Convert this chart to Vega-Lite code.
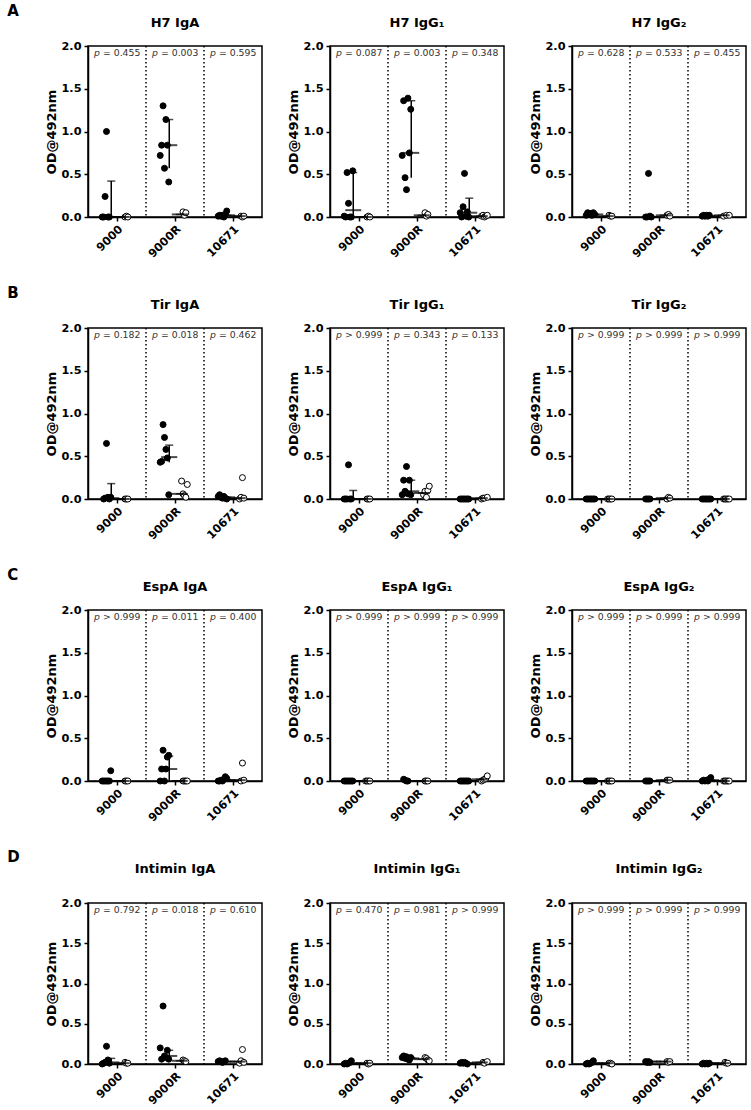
{
"$schema": "https://vega.github.io/schema/vega-lite/v6.json",
"background": "white",
"padding": {"left": 7, "top": 4, "right": 2, "bottom": 2},
"config": {
  "font": "DejaVu Sans",
  "view": {"stroke": "black", "strokeWidth": 1.5},
  "axis": {"grid": false, "domainColor": "black", "domainWidth": 1.5, "tickColor": "black", "tickWidth": 1.5, "tickSize": 4, "labelColor": "black", "labelFont": "DejaVu Sans", "labelFontWeight": "bold", "labelFontSize": 11.3, "titleColor": "black", "titleFont": "DejaVu Sans", "titleFontWeight": "bold", "titleFontSize": 13},
  "axisX": {"labelAngle": -45, "labelPadding": 2},
  "axisY": {"titlePadding": 2, "labelPadding": 3},
  "header": {"labelFontSize": 13, "labelFontWeight": "bold", "labelColor": "black", "labelFont": "DejaVu Sans", "labelPadding": 16},
  "title": {"fontSize": 15, "fontWeight": "bold", "anchor": "start", "color": "black", "font": "DejaVu Sans", "dx": -38, "offset": -2}
},
"datasets": {"d": [
{"k":"pt","row":"A","panel":"H7 IgA","group":"9000","sub":"i","rep":"i1","od":0},
{"k":"pt","row":"A","panel":"H7 IgA","group":"9000","sub":"i","rep":"i2","od":0},
{"k":"pt","row":"A","panel":"H7 IgA","group":"9000","sub":"i","rep":"i3","od":0.24},
{"k":"pt","row":"A","panel":"H7 IgA","group":"9000","sub":"i","rep":"i4","od":1.0},
{"k":"pt","row":"A","panel":"H7 IgA","group":"9000","sub":"i","rep":"i5","od":0},
{"k":"pt","row":"A","panel":"H7 IgA","group":"9000","sub":"i","rep":"i6","od":0},
{"k":"pt","row":"A","panel":"H7 IgA","group":"9000","sub":"c","rep":"c2","od":0},
{"k":"pt","row":"A","panel":"H7 IgA","group":"9000","sub":"c","rep":"c3","od":0.01},
{"k":"pt","row":"A","panel":"H7 IgA","group":"9000","sub":"c","rep":"c4","od":0},
{"k":"pt","row":"A","panel":"H7 IgA","group":"9000R","sub":"i","rep":"i1","od":0.72},
{"k":"pt","row":"A","panel":"H7 IgA","group":"9000R","sub":"i","rep":"i2","od":0.84},
{"k":"pt","row":"A","panel":"H7 IgA","group":"9000R","sub":"i","rep":"i3","od":1.3},
{"k":"pt","row":"A","panel":"H7 IgA","group":"9000R","sub":"i","rep":"i4","od":0.57},
{"k":"pt","row":"A","panel":"H7 IgA","group":"9000R","sub":"i","rep":"i5","od":1.14},
{"k":"pt","row":"A","panel":"H7 IgA","group":"9000R","sub":"i","rep":"i6","od":0.84},
{"k":"pt","row":"A","panel":"H7 IgA","group":"9000R","sub":"i","rep":"i7","od":0.41},
{"k":"pt","row":"A","panel":"H7 IgA","group":"9000R","sub":"c","rep":"c2","od":0.06},
{"k":"pt","row":"A","panel":"H7 IgA","group":"9000R","sub":"c","rep":"c3","od":0.02},
{"k":"pt","row":"A","panel":"H7 IgA","group":"9000R","sub":"c","rep":"c4","od":0.05},
{"k":"pt","row":"A","panel":"H7 IgA","group":"10671","sub":"i","rep":"i1","od":0.01},
{"k":"pt","row":"A","panel":"H7 IgA","group":"10671","sub":"i","rep":"i2","od":0.02},
{"k":"pt","row":"A","panel":"H7 IgA","group":"10671","sub":"i","rep":"i3","od":0.01},
{"k":"pt","row":"A","panel":"H7 IgA","group":"10671","sub":"i","rep":"i4","od":0.02},
{"k":"pt","row":"A","panel":"H7 IgA","group":"10671","sub":"i","rep":"i5","od":0},
{"k":"pt","row":"A","panel":"H7 IgA","group":"10671","sub":"i","rep":"i6","od":0.03},
{"k":"pt","row":"A","panel":"H7 IgA","group":"10671","sub":"i","rep":"i7","od":0.07},
{"k":"pt","row":"A","panel":"H7 IgA","group":"10671","sub":"c","rep":"c2","od":0.01},
{"k":"pt","row":"A","panel":"H7 IgA","group":"10671","sub":"c","rep":"c3","od":0},
{"k":"pt","row":"A","panel":"H7 IgA","group":"10671","sub":"c","rep":"c4","od":0.01},

{"k":"pt","row":"A","panel":"H7 IgG\u2081","group":"9000","sub":"i","rep":"i1","od":0.01},
{"k":"pt","row":"A","panel":"H7 IgG\u2081","group":"9000","sub":"i","rep":"i2","od":0},
{"k":"pt","row":"A","panel":"H7 IgG\u2081","group":"9000","sub":"i","rep":"i3","od":0.52},
{"k":"pt","row":"A","panel":"H7 IgG\u2081","group":"9000","sub":"i","rep":"i4","od":0.16},
{"k":"pt","row":"A","panel":"H7 IgG\u2081","group":"9000","sub":"i","rep":"i5","od":0},
{"k":"pt","row":"A","panel":"H7 IgG\u2081","group":"9000","sub":"i","rep":"i6","od":0},
{"k":"pt","row":"A","panel":"H7 IgG\u2081","group":"9000","sub":"i","rep":"i7","od":0.54},
{"k":"pt","row":"A","panel":"H7 IgG\u2081","group":"9000","sub":"c","rep":"c2","od":0},
{"k":"pt","row":"A","panel":"H7 IgG\u2081","group":"9000","sub":"c","rep":"c3","od":0.01},
{"k":"pt","row":"A","panel":"H7 IgG\u2081","group":"9000","sub":"c","rep":"c4","od":0},
{"k":"pt","row":"A","panel":"H7 IgG\u2081","group":"9000R","sub":"i","rep":"i1","od":0.72},
{"k":"pt","row":"A","panel":"H7 IgG\u2081","group":"9000R","sub":"i","rep":"i2","od":1.36},
{"k":"pt","row":"A","panel":"H7 IgG\u2081","group":"9000R","sub":"i","rep":"i3","od":0.46},
{"k":"pt","row":"A","panel":"H7 IgG\u2081","group":"9000R","sub":"i","rep":"i4","od":0.32},
{"k":"pt","row":"A","panel":"H7 IgG\u2081","group":"9000R","sub":"i","rep":"i5","od":1.39},
{"k":"pt","row":"A","panel":"H7 IgG\u2081","group":"9000R","sub":"i","rep":"i6","od":0.75},
{"k":"pt","row":"A","panel":"H7 IgG\u2081","group":"9000R","sub":"i","rep":"i7","od":1.26},
{"k":"pt","row":"A","panel":"H7 IgG\u2081","group":"9000R","sub":"c","rep":"c2","od":0.05},
{"k":"pt","row":"A","panel":"H7 IgG\u2081","group":"9000R","sub":"c","rep":"c3","od":0.01},
{"k":"pt","row":"A","panel":"H7 IgG\u2081","group":"9000R","sub":"c","rep":"c4","od":0.03},
{"k":"pt","row":"A","panel":"H7 IgG\u2081","group":"10671","sub":"i","rep":"i1","od":0.05},
{"k":"pt","row":"A","panel":"H7 IgG\u2081","group":"10671","sub":"i","rep":"i2","od":0},
{"k":"pt","row":"A","panel":"H7 IgG\u2081","group":"10671","sub":"i","rep":"i3","od":0.12},
{"k":"pt","row":"A","panel":"H7 IgG\u2081","group":"10671","sub":"i","rep":"i4","od":0.51},
{"k":"pt","row":"A","panel":"H7 IgG\u2081","group":"10671","sub":"i","rep":"i5","od":0.01},
{"k":"pt","row":"A","panel":"H7 IgG\u2081","group":"10671","sub":"i","rep":"i6","od":0.06},
{"k":"pt","row":"A","panel":"H7 IgG\u2081","group":"10671","sub":"i","rep":"i7","od":0},
{"k":"pt","row":"A","panel":"H7 IgG\u2081","group":"10671","sub":"c","rep":"c1","od":0.01},
{"k":"pt","row":"A","panel":"H7 IgG\u2081","group":"10671","sub":"c","rep":"c2","od":0.02},
{"k":"pt","row":"A","panel":"H7 IgG\u2081","group":"10671","sub":"c","rep":"c3","od":0},
{"k":"pt","row":"A","panel":"H7 IgG\u2081","group":"10671","sub":"c","rep":"c4","od":0.01},
{"k":"pt","row":"A","panel":"H7 IgG\u2081","group":"10671","sub":"c","rep":"c5","od":0.02},

{"k":"pt","row":"A","panel":"H7 IgG\u2082","group":"9000","sub":"i","rep":"i1","od":0.02},
{"k":"pt","row":"A","panel":"H7 IgG\u2082","group":"9000","sub":"i","rep":"i2","od":0.05},
{"k":"pt","row":"A","panel":"H7 IgG\u2082","group":"9000","sub":"i","rep":"i3","od":0.03},
{"k":"pt","row":"A","panel":"H7 IgG\u2082","group":"9000","sub":"i","rep":"i4","od":0.04},
{"k":"pt","row":"A","panel":"H7 IgG\u2082","group":"9000","sub":"i","rep":"i5","od":0.02},
{"k":"pt","row":"A","panel":"H7 IgG\u2082","group":"9000","sub":"i","rep":"i6","od":0.05},
{"k":"pt","row":"A","panel":"H7 IgG\u2082","group":"9000","sub":"i","rep":"i7","od":0.03},
{"k":"pt","row":"A","panel":"H7 IgG\u2082","group":"9000","sub":"c","rep":"c2","od":0.02},
{"k":"pt","row":"A","panel":"H7 IgG\u2082","group":"9000","sub":"c","rep":"c3","od":0.01},
{"k":"pt","row":"A","panel":"H7 IgG\u2082","group":"9000","sub":"c","rep":"c4","od":0.01},
{"k":"pt","row":"A","panel":"H7 IgG\u2082","group":"9000R","sub":"i","rep":"i2","od":0},
{"k":"pt","row":"A","panel":"H7 IgG\u2082","group":"9000R","sub":"i","rep":"i3","od":0},
{"k":"pt","row":"A","panel":"H7 IgG\u2082","group":"9000R","sub":"i","rep":"i4","od":0.51},
{"k":"pt","row":"A","panel":"H7 IgG\u2082","group":"9000R","sub":"i","rep":"i5","od":0.01},
{"k":"pt","row":"A","panel":"H7 IgG\u2082","group":"9000R","sub":"i","rep":"i6","od":0},
{"k":"pt","row":"A","panel":"H7 IgG\u2082","group":"9000R","sub":"c","rep":"c2","od":0.02},
{"k":"pt","row":"A","panel":"H7 IgG\u2082","group":"9000R","sub":"c","rep":"c3","od":0.03},
{"k":"pt","row":"A","panel":"H7 IgG\u2082","group":"9000R","sub":"c","rep":"c4","od":0.01},
{"k":"pt","row":"A","panel":"H7 IgG\u2082","group":"10671","sub":"i","rep":"i1","od":0.01},
{"k":"pt","row":"A","panel":"H7 IgG\u2082","group":"10671","sub":"i","rep":"i2","od":0.02},
{"k":"pt","row":"A","panel":"H7 IgG\u2082","group":"10671","sub":"i","rep":"i3","od":0.01},
{"k":"pt","row":"A","panel":"H7 IgG\u2082","group":"10671","sub":"i","rep":"i4","od":0.02},
{"k":"pt","row":"A","panel":"H7 IgG\u2082","group":"10671","sub":"i","rep":"i5","od":0.01},
{"k":"pt","row":"A","panel":"H7 IgG\u2082","group":"10671","sub":"i","rep":"i6","od":0.02},
{"k":"pt","row":"A","panel":"H7 IgG\u2082","group":"10671","sub":"c","rep":"c1","od":0.01},
{"k":"pt","row":"A","panel":"H7 IgG\u2082","group":"10671","sub":"c","rep":"c3","od":0.02},
{"k":"pt","row":"A","panel":"H7 IgG\u2082","group":"10671","sub":"c","rep":"c5","od":0.02},

{"k":"pt","row":"B","panel":"Tir IgA","group":"9000","sub":"i","rep":"i2","od":0},
{"k":"pt","row":"B","panel":"Tir IgA","group":"9000","sub":"i","rep":"i3","od":0.01},
{"k":"pt","row":"B","panel":"Tir IgA","group":"9000","sub":"i","rep":"i4","od":0.65},
{"k":"pt","row":"B","panel":"Tir IgA","group":"9000","sub":"i","rep":"i5","od":0.02},
{"k":"pt","row":"B","panel":"Tir IgA","group":"9000","sub":"i","rep":"i6","od":0},
{"k":"pt","row":"B","panel":"Tir IgA","group":"9000","sub":"i","rep":"i7","od":0.02},
{"k":"pt","row":"B","panel":"Tir IgA","group":"9000","sub":"c","rep":"c2","od":0},
{"k":"pt","row":"B","panel":"Tir IgA","group":"9000","sub":"c","rep":"c3","od":0},
{"k":"pt","row":"B","panel":"Tir IgA","group":"9000","sub":"c","rep":"c4","od":0},
{"k":"pt","row":"B","panel":"Tir IgA","group":"9000R","sub":"i","rep":"i1","od":0.43},
{"k":"pt","row":"B","panel":"Tir IgA","group":"9000R","sub":"i","rep":"i2","od":0.44},
{"k":"pt","row":"B","panel":"Tir IgA","group":"9000R","sub":"i","rep":"i3","od":0.87},
{"k":"pt","row":"B","panel":"Tir IgA","group":"9000R","sub":"i","rep":"i4","od":0.72},
{"k":"pt","row":"B","panel":"Tir IgA","group":"9000R","sub":"i","rep":"i5","od":0.58},
{"k":"pt","row":"B","panel":"Tir IgA","group":"9000R","sub":"i","rep":"i6","od":0.48},
{"k":"pt","row":"B","panel":"Tir IgA","group":"9000R","sub":"i","rep":"i7","od":0.05},
{"k":"pt","row":"B","panel":"Tir IgA","group":"9000R","sub":"c","rep":"c1","od":0.21},
{"k":"pt","row":"B","panel":"Tir IgA","group":"9000R","sub":"c","rep":"c2","od":0.06},
{"k":"pt","row":"B","panel":"Tir IgA","group":"9000R","sub":"c","rep":"c3","od":0.04},
{"k":"pt","row":"B","panel":"Tir IgA","group":"9000R","sub":"c","rep":"c4","od":0.02},
{"k":"pt","row":"B","panel":"Tir IgA","group":"9000R","sub":"c","rep":"c5","od":0.17},
{"k":"pt","row":"B","panel":"Tir IgA","group":"10671","sub":"i","rep":"i1","od":0.03},
{"k":"pt","row":"B","panel":"Tir IgA","group":"10671","sub":"i","rep":"i2","od":0.05},
{"k":"pt","row":"B","panel":"Tir IgA","group":"10671","sub":"i","rep":"i3","od":0.02},
{"k":"pt","row":"B","panel":"Tir IgA","group":"10671","sub":"i","rep":"i4","od":0.01},
{"k":"pt","row":"B","panel":"Tir IgA","group":"10671","sub":"i","rep":"i5","od":0.03},
{"k":"pt","row":"B","panel":"Tir IgA","group":"10671","sub":"i","rep":"i6","od":0.01},
{"k":"pt","row":"B","panel":"Tir IgA","group":"10671","sub":"i","rep":"i7","od":0},
{"k":"pt","row":"B","panel":"Tir IgA","group":"10671","sub":"c","rep":"c1","od":0},
{"k":"pt","row":"B","panel":"Tir IgA","group":"10671","sub":"c","rep":"c2","od":0.02},
{"k":"pt","row":"B","panel":"Tir IgA","group":"10671","sub":"c","rep":"c3","od":0.25},
{"k":"pt","row":"B","panel":"Tir IgA","group":"10671","sub":"c","rep":"c4","od":0.01},

{"k":"pt","row":"B","panel":"Tir IgG\u2081","group":"9000","sub":"i","rep":"i1","od":0},
{"k":"pt","row":"B","panel":"Tir IgG\u2081","group":"9000","sub":"i","rep":"i2","od":0},
{"k":"pt","row":"B","panel":"Tir IgG\u2081","group":"9000","sub":"i","rep":"i3","od":0},
{"k":"pt","row":"B","panel":"Tir IgG\u2081","group":"9000","sub":"i","rep":"i4","od":0.4},
{"k":"pt","row":"B","panel":"Tir IgG\u2081","group":"9000","sub":"i","rep":"i5","od":0},
{"k":"pt","row":"B","panel":"Tir IgG\u2081","group":"9000","sub":"i","rep":"i6","od":0},
{"k":"pt","row":"B","panel":"Tir IgG\u2081","group":"9000","sub":"c","rep":"c2","od":0},
{"k":"pt","row":"B","panel":"Tir IgG\u2081","group":"9000","sub":"c","rep":"c3","od":0},
{"k":"pt","row":"B","panel":"Tir IgG\u2081","group":"9000","sub":"c","rep":"c4","od":0},
{"k":"pt","row":"B","panel":"Tir IgG\u2081","group":"9000R","sub":"i","rep":"i1","od":0.05},
{"k":"pt","row":"B","panel":"Tir IgG\u2081","group":"9000R","sub":"i","rep":"i2","od":0.22},
{"k":"pt","row":"B","panel":"Tir IgG\u2081","group":"9000R","sub":"i","rep":"i3","od":0.09},
{"k":"pt","row":"B","panel":"Tir IgG\u2081","group":"9000R","sub":"i","rep":"i4","od":0.38},
{"k":"pt","row":"B","panel":"Tir IgG\u2081","group":"9000R","sub":"i","rep":"i5","od":0.06},
{"k":"pt","row":"B","panel":"Tir IgG\u2081","group":"9000R","sub":"i","rep":"i6","od":0.22},
{"k":"pt","row":"B","panel":"Tir IgG\u2081","group":"9000R","sub":"i","rep":"i7","od":0.05},
{"k":"pt","row":"B","panel":"Tir IgG\u2081","group":"9000R","sub":"c","rep":"c1","od":0.05},
{"k":"pt","row":"B","panel":"Tir IgG\u2081","group":"9000R","sub":"c","rep":"c2","od":0.09},
{"k":"pt","row":"B","panel":"Tir IgG\u2081","group":"9000R","sub":"c","rep":"c3","od":0.02},
{"k":"pt","row":"B","panel":"Tir IgG\u2081","group":"9000R","sub":"c","rep":"c4","od":0.1},
{"k":"pt","row":"B","panel":"Tir IgG\u2081","group":"9000R","sub":"c","rep":"c5","od":0.15},
{"k":"pt","row":"B","panel":"Tir IgG\u2081","group":"10671","sub":"i","rep":"i1","od":0},
{"k":"pt","row":"B","panel":"Tir IgG\u2081","group":"10671","sub":"i","rep":"i2","od":0},
{"k":"pt","row":"B","panel":"Tir IgG\u2081","group":"10671","sub":"i","rep":"i3","od":0},
{"k":"pt","row":"B","panel":"Tir IgG\u2081","group":"10671","sub":"i","rep":"i4","od":0},
{"k":"pt","row":"B","panel":"Tir IgG\u2081","group":"10671","sub":"i","rep":"i5","od":0},
{"k":"pt","row":"B","panel":"Tir IgG\u2081","group":"10671","sub":"i","rep":"i6","od":0},
{"k":"pt","row":"B","panel":"Tir IgG\u2081","group":"10671","sub":"i","rep":"i7","od":0},
{"k":"pt","row":"B","panel":"Tir IgG\u2081","group":"10671","sub":"c","rep":"c1","od":0},
{"k":"pt","row":"B","panel":"Tir IgG\u2081","group":"10671","sub":"c","rep":"c2","od":0.01},
{"k":"pt","row":"B","panel":"Tir IgG\u2081","group":"10671","sub":"c","rep":"c3","od":0.01},
{"k":"pt","row":"B","panel":"Tir IgG\u2081","group":"10671","sub":"c","rep":"c5","od":0.02},

{"k":"pt","row":"B","panel":"Tir IgG\u2082","group":"9000","sub":"i","rep":"i1","od":0},
{"k":"pt","row":"B","panel":"Tir IgG\u2082","group":"9000","sub":"i","rep":"i2","od":0},
{"k":"pt","row":"B","panel":"Tir IgG\u2082","group":"9000","sub":"i","rep":"i3","od":0},
{"k":"pt","row":"B","panel":"Tir IgG\u2082","group":"9000","sub":"i","rep":"i4","od":0},
{"k":"pt","row":"B","panel":"Tir IgG\u2082","group":"9000","sub":"i","rep":"i5","od":0},
{"k":"pt","row":"B","panel":"Tir IgG\u2082","group":"9000","sub":"i","rep":"i6","od":0},
{"k":"pt","row":"B","panel":"Tir IgG\u2082","group":"9000","sub":"i","rep":"i7","od":0},
{"k":"pt","row":"B","panel":"Tir IgG\u2082","group":"9000","sub":"c","rep":"c1","od":0},
{"k":"pt","row":"B","panel":"Tir IgG\u2082","group":"9000","sub":"c","rep":"c2","od":0},
{"k":"pt","row":"B","panel":"Tir IgG\u2082","group":"9000","sub":"c","rep":"c3","od":0},
{"k":"pt","row":"B","panel":"Tir IgG\u2082","group":"9000","sub":"c","rep":"c4","od":0},
{"k":"pt","row":"B","panel":"Tir IgG\u2082","group":"9000R","sub":"i","rep":"i2","od":0},
{"k":"pt","row":"B","panel":"Tir IgG\u2082","group":"9000R","sub":"i","rep":"i3","od":0},
{"k":"pt","row":"B","panel":"Tir IgG\u2082","group":"9000R","sub":"i","rep":"i4","od":0},
{"k":"pt","row":"B","panel":"Tir IgG\u2082","group":"9000R","sub":"i","rep":"i5","od":0},
{"k":"pt","row":"B","panel":"Tir IgG\u2082","group":"9000R","sub":"c","rep":"c2","od":0},
{"k":"pt","row":"B","panel":"Tir IgG\u2082","group":"9000R","sub":"c","rep":"c3","od":0.02},
{"k":"pt","row":"B","panel":"Tir IgG\u2082","group":"9000R","sub":"c","rep":"c4","od":0.01},
{"k":"pt","row":"B","panel":"Tir IgG\u2082","group":"10671","sub":"i","rep":"i1","od":0},
{"k":"pt","row":"B","panel":"Tir IgG\u2082","group":"10671","sub":"i","rep":"i2","od":0},
{"k":"pt","row":"B","panel":"Tir IgG\u2082","group":"10671","sub":"i","rep":"i3","od":0},
{"k":"pt","row":"B","panel":"Tir IgG\u2082","group":"10671","sub":"i","rep":"i4","od":0},
{"k":"pt","row":"B","panel":"Tir IgG\u2082","group":"10671","sub":"i","rep":"i5","od":0},
{"k":"pt","row":"B","panel":"Tir IgG\u2082","group":"10671","sub":"i","rep":"i6","od":0},
{"k":"pt","row":"B","panel":"Tir IgG\u2082","group":"10671","sub":"i","rep":"i7","od":0},
{"k":"pt","row":"B","panel":"Tir IgG\u2082","group":"10671","sub":"c","rep":"c1","od":0},
{"k":"pt","row":"B","panel":"Tir IgG\u2082","group":"10671","sub":"c","rep":"c2","od":0},
{"k":"pt","row":"B","panel":"Tir IgG\u2082","group":"10671","sub":"c","rep":"c3","od":0},
{"k":"pt","row":"B","panel":"Tir IgG\u2082","group":"10671","sub":"c","rep":"c4","od":0},
{"k":"pt","row":"B","panel":"Tir IgG\u2082","group":"10671","sub":"c","rep":"c5","od":0},

{"k":"pt","row":"C","panel":"EspA IgA","group":"9000","sub":"i","rep":"i1","od":0},
{"k":"pt","row":"C","panel":"EspA IgA","group":"9000","sub":"i","rep":"i2","od":0},
{"k":"pt","row":"C","panel":"EspA IgA","group":"9000","sub":"i","rep":"i3","od":0},
{"k":"pt","row":"C","panel":"EspA IgA","group":"9000","sub":"i","rep":"i4","od":0},
{"k":"pt","row":"C","panel":"EspA IgA","group":"9000","sub":"i","rep":"i5","od":0},
{"k":"pt","row":"C","panel":"EspA IgA","group":"9000","sub":"i","rep":"i6","od":0},
{"k":"pt","row":"C","panel":"EspA IgA","group":"9000","sub":"i","rep":"i7","od":0.12},
{"k":"pt","row":"C","panel":"EspA IgA","group":"9000","sub":"c","rep":"c2","od":0},
{"k":"pt","row":"C","panel":"EspA IgA","group":"9000","sub":"c","rep":"c3","od":0},
{"k":"pt","row":"C","panel":"EspA IgA","group":"9000","sub":"c","rep":"c4","od":0},
{"k":"pt","row":"C","panel":"EspA IgA","group":"9000R","sub":"i","rep":"i1","od":0},
{"k":"pt","row":"C","panel":"EspA IgA","group":"9000R","sub":"i","rep":"i2","od":0.14},
{"k":"pt","row":"C","panel":"EspA IgA","group":"9000R","sub":"i","rep":"i3","od":0.36},
{"k":"pt","row":"C","panel":"EspA IgA","group":"9000R","sub":"i","rep":"i4","od":0},
{"k":"pt","row":"C","panel":"EspA IgA","group":"9000R","sub":"i","rep":"i5","od":0.14},
{"k":"pt","row":"C","panel":"EspA IgA","group":"9000R","sub":"i","rep":"i6","od":0.28},
{"k":"pt","row":"C","panel":"EspA IgA","group":"9000R","sub":"i","rep":"i7","od":0.3},
{"k":"pt","row":"C","panel":"EspA IgA","group":"9000R","sub":"c","rep":"c2","od":0},
{"k":"pt","row":"C","panel":"EspA IgA","group":"9000R","sub":"c","rep":"c3","od":0},
{"k":"pt","row":"C","panel":"EspA IgA","group":"9000R","sub":"c","rep":"c4","od":0},
{"k":"pt","row":"C","panel":"EspA IgA","group":"9000R","sub":"c","rep":"c5","od":0},
{"k":"pt","row":"C","panel":"EspA IgA","group":"10671","sub":"i","rep":"i1","od":0},
{"k":"pt","row":"C","panel":"EspA IgA","group":"10671","sub":"i","rep":"i2","od":0},
{"k":"pt","row":"C","panel":"EspA IgA","group":"10671","sub":"i","rep":"i3","od":0.01},
{"k":"pt","row":"C","panel":"EspA IgA","group":"10671","sub":"i","rep":"i4","od":0},
{"k":"pt","row":"C","panel":"EspA IgA","group":"10671","sub":"i","rep":"i5","od":0.02},
{"k":"pt","row":"C","panel":"EspA IgA","group":"10671","sub":"i","rep":"i6","od":0.05},
{"k":"pt","row":"C","panel":"EspA IgA","group":"10671","sub":"i","rep":"i7","od":0.03},
{"k":"pt","row":"C","panel":"EspA IgA","group":"10671","sub":"c","rep":"c2","od":0},
{"k":"pt","row":"C","panel":"EspA IgA","group":"10671","sub":"c","rep":"c3","od":0.21},
{"k":"pt","row":"C","panel":"EspA IgA","group":"10671","sub":"c","rep":"c4","od":0.01},

{"k":"pt","row":"C","panel":"EspA IgG\u2081","group":"9000","sub":"i","rep":"i1","od":0},
{"k":"pt","row":"C","panel":"EspA IgG\u2081","group":"9000","sub":"i","rep":"i2","od":0},
{"k":"pt","row":"C","panel":"EspA IgG\u2081","group":"9000","sub":"i","rep":"i3","od":0},
{"k":"pt","row":"C","panel":"EspA IgG\u2081","group":"9000","sub":"i","rep":"i4","od":0},
{"k":"pt","row":"C","panel":"EspA IgG\u2081","group":"9000","sub":"i","rep":"i5","od":0},
{"k":"pt","row":"C","panel":"EspA IgG\u2081","group":"9000","sub":"i","rep":"i6","od":0},
{"k":"pt","row":"C","panel":"EspA IgG\u2081","group":"9000","sub":"i","rep":"i7","od":0},
{"k":"pt","row":"C","panel":"EspA IgG\u2081","group":"9000","sub":"c","rep":"c1","od":0},
{"k":"pt","row":"C","panel":"EspA IgG\u2081","group":"9000","sub":"c","rep":"c2","od":0},
{"k":"pt","row":"C","panel":"EspA IgG\u2081","group":"9000","sub":"c","rep":"c3","od":0},
{"k":"pt","row":"C","panel":"EspA IgG\u2081","group":"9000","sub":"c","rep":"c4","od":0},
{"k":"pt","row":"C","panel":"EspA IgG\u2081","group":"9000R","sub":"i","rep":"i2","od":0.02},
{"k":"pt","row":"C","panel":"EspA IgG\u2081","group":"9000R","sub":"i","rep":"i3","od":0.01},
{"k":"pt","row":"C","panel":"EspA IgG\u2081","group":"9000R","sub":"i","rep":"i4","od":0},
{"k":"pt","row":"C","panel":"EspA IgG\u2081","group":"9000R","sub":"i","rep":"i5","od":0},
{"k":"pt","row":"C","panel":"EspA IgG\u2081","group":"9000R","sub":"c","rep":"c2","od":0},
{"k":"pt","row":"C","panel":"EspA IgG\u2081","group":"9000R","sub":"c","rep":"c3","od":0},
{"k":"pt","row":"C","panel":"EspA IgG\u2081","group":"9000R","sub":"c","rep":"c4","od":0},
{"k":"pt","row":"C","panel":"EspA IgG\u2081","group":"10671","sub":"i","rep":"i1","od":0},
{"k":"pt","row":"C","panel":"EspA IgG\u2081","group":"10671","sub":"i","rep":"i2","od":0},
{"k":"pt","row":"C","panel":"EspA IgG\u2081","group":"10671","sub":"i","rep":"i3","od":0},
{"k":"pt","row":"C","panel":"EspA IgG\u2081","group":"10671","sub":"i","rep":"i4","od":0},
{"k":"pt","row":"C","panel":"EspA IgG\u2081","group":"10671","sub":"i","rep":"i5","od":0},
{"k":"pt","row":"C","panel":"EspA IgG\u2081","group":"10671","sub":"i","rep":"i6","od":0},
{"k":"pt","row":"C","panel":"EspA IgG\u2081","group":"10671","sub":"i","rep":"i7","od":0},
{"k":"pt","row":"C","panel":"EspA IgG\u2081","group":"10671","sub":"c","rep":"c1","od":0},
{"k":"pt","row":"C","panel":"EspA IgG\u2081","group":"10671","sub":"c","rep":"c2","od":0.01},
{"k":"pt","row":"C","panel":"EspA IgG\u2081","group":"10671","sub":"c","rep":"c3","od":0.02},
{"k":"pt","row":"C","panel":"EspA IgG\u2081","group":"10671","sub":"c","rep":"c4","od":0.03},
{"k":"pt","row":"C","panel":"EspA IgG\u2081","group":"10671","sub":"c","rep":"c5","od":0.06},

{"k":"pt","row":"C","panel":"EspA IgG\u2082","group":"9000","sub":"i","rep":"i1","od":0},
{"k":"pt","row":"C","panel":"EspA IgG\u2082","group":"9000","sub":"i","rep":"i2","od":0},
{"k":"pt","row":"C","panel":"EspA IgG\u2082","group":"9000","sub":"i","rep":"i3","od":0},
{"k":"pt","row":"C","panel":"EspA IgG\u2082","group":"9000","sub":"i","rep":"i4","od":0},
{"k":"pt","row":"C","panel":"EspA IgG\u2082","group":"9000","sub":"i","rep":"i5","od":0},
{"k":"pt","row":"C","panel":"EspA IgG\u2082","group":"9000","sub":"i","rep":"i6","od":0},
{"k":"pt","row":"C","panel":"EspA IgG\u2082","group":"9000","sub":"i","rep":"i7","od":0},
{"k":"pt","row":"C","panel":"EspA IgG\u2082","group":"9000","sub":"c","rep":"c1","od":0},
{"k":"pt","row":"C","panel":"EspA IgG\u2082","group":"9000","sub":"c","rep":"c2","od":0},
{"k":"pt","row":"C","panel":"EspA IgG\u2082","group":"9000","sub":"c","rep":"c3","od":0},
{"k":"pt","row":"C","panel":"EspA IgG\u2082","group":"9000","sub":"c","rep":"c4","od":0},
{"k":"pt","row":"C","panel":"EspA IgG\u2082","group":"9000R","sub":"i","rep":"i2","od":0},
{"k":"pt","row":"C","panel":"EspA IgG\u2082","group":"9000R","sub":"i","rep":"i3","od":0},
{"k":"pt","row":"C","panel":"EspA IgG\u2082","group":"9000R","sub":"i","rep":"i4","od":0},
{"k":"pt","row":"C","panel":"EspA IgG\u2082","group":"9000R","sub":"i","rep":"i5","od":0},
{"k":"pt","row":"C","panel":"EspA IgG\u2082","group":"9000R","sub":"c","rep":"c2","od":0.01},
{"k":"pt","row":"C","panel":"EspA IgG\u2082","group":"9000R","sub":"c","rep":"c3","od":0.01},
{"k":"pt","row":"C","panel":"EspA IgG\u2082","group":"9000R","sub":"c","rep":"c4","od":0.01},
{"k":"pt","row":"C","panel":"EspA IgG\u2082","group":"10671","sub":"i","rep":"i1","od":0},
{"k":"pt","row":"C","panel":"EspA IgG\u2082","group":"10671","sub":"i","rep":"i2","od":0.01},
{"k":"pt","row":"C","panel":"EspA IgG\u2082","group":"10671","sub":"i","rep":"i3","od":0},
{"k":"pt","row":"C","panel":"EspA IgG\u2082","group":"10671","sub":"i","rep":"i4","od":0.01},
{"k":"pt","row":"C","panel":"EspA IgG\u2082","group":"10671","sub":"i","rep":"i5","od":0},
{"k":"pt","row":"C","panel":"EspA IgG\u2082","group":"10671","sub":"i","rep":"i6","od":0.02},
{"k":"pt","row":"C","panel":"EspA IgG\u2082","group":"10671","sub":"i","rep":"i7","od":0.04},
{"k":"pt","row":"C","panel":"EspA IgG\u2082","group":"10671","sub":"c","rep":"c1","od":0},
{"k":"pt","row":"C","panel":"EspA IgG\u2082","group":"10671","sub":"c","rep":"c2","od":0},
{"k":"pt","row":"C","panel":"EspA IgG\u2082","group":"10671","sub":"c","rep":"c3","od":0},
{"k":"pt","row":"C","panel":"EspA IgG\u2082","group":"10671","sub":"c","rep":"c4","od":0},
{"k":"pt","row":"C","panel":"EspA IgG\u2082","group":"10671","sub":"c","rep":"c5","od":0},

{"k":"pt","row":"D","panel":"Intimin IgA","group":"9000","sub":"i","rep":"i1","od":0},
{"k":"pt","row":"D","panel":"Intimin IgA","group":"9000","sub":"i","rep":"i2","od":0.01},
{"k":"pt","row":"D","panel":"Intimin IgA","group":"9000","sub":"i","rep":"i3","od":0.02},
{"k":"pt","row":"D","panel":"Intimin IgA","group":"9000","sub":"i","rep":"i4","od":0.22},
{"k":"pt","row":"D","panel":"Intimin IgA","group":"9000","sub":"i","rep":"i5","od":0.05},
{"k":"pt","row":"D","panel":"Intimin IgA","group":"9000","sub":"i","rep":"i6","od":0.01},
{"k":"pt","row":"D","panel":"Intimin IgA","group":"9000","sub":"c","rep":"c2","od":0.02},
{"k":"pt","row":"D","panel":"Intimin IgA","group":"9000","sub":"c","rep":"c3","od":0.01},
{"k":"pt","row":"D","panel":"Intimin IgA","group":"9000","sub":"c","rep":"c4","od":0.01},
{"k":"pt","row":"D","panel":"Intimin IgA","group":"9000R","sub":"i","rep":"i1","od":0.2},
{"k":"pt","row":"D","panel":"Intimin IgA","group":"9000R","sub":"i","rep":"i2","od":0.06},
{"k":"pt","row":"D","panel":"Intimin IgA","group":"9000R","sub":"i","rep":"i3","od":0.72},
{"k":"pt","row":"D","panel":"Intimin IgA","group":"9000R","sub":"i","rep":"i4","od":0.1},
{"k":"pt","row":"D","panel":"Intimin IgA","group":"9000R","sub":"i","rep":"i5","od":0.08},
{"k":"pt","row":"D","panel":"Intimin IgA","group":"9000R","sub":"i","rep":"i6","od":0.17},
{"k":"pt","row":"D","panel":"Intimin IgA","group":"9000R","sub":"i","rep":"i7","od":0.06},
{"k":"pt","row":"D","panel":"Intimin IgA","group":"9000R","sub":"c","rep":"c2","od":0.05},
{"k":"pt","row":"D","panel":"Intimin IgA","group":"9000R","sub":"c","rep":"c3","od":0.04},
{"k":"pt","row":"D","panel":"Intimin IgA","group":"9000R","sub":"c","rep":"c4","od":0.03},
{"k":"pt","row":"D","panel":"Intimin IgA","group":"10671","sub":"i","rep":"i1","od":0.03},
{"k":"pt","row":"D","panel":"Intimin IgA","group":"10671","sub":"i","rep":"i2","od":0.04},
{"k":"pt","row":"D","panel":"Intimin IgA","group":"10671","sub":"i","rep":"i3","od":0.03},
{"k":"pt","row":"D","panel":"Intimin IgA","group":"10671","sub":"i","rep":"i4","od":0.02},
{"k":"pt","row":"D","panel":"Intimin IgA","group":"10671","sub":"i","rep":"i5","od":0.03},
{"k":"pt","row":"D","panel":"Intimin IgA","group":"10671","sub":"i","rep":"i6","od":0.04},
{"k":"pt","row":"D","panel":"Intimin IgA","group":"10671","sub":"c","rep":"c1","od":0.01},
{"k":"pt","row":"D","panel":"Intimin IgA","group":"10671","sub":"c","rep":"c2","od":0.04},
{"k":"pt","row":"D","panel":"Intimin IgA","group":"10671","sub":"c","rep":"c3","od":0.18},
{"k":"pt","row":"D","panel":"Intimin IgA","group":"10671","sub":"c","rep":"c4","od":0.02},

{"k":"pt","row":"D","panel":"Intimin IgG\u2081","group":"9000","sub":"i","rep":"i1","od":0},
{"k":"pt","row":"D","panel":"Intimin IgG\u2081","group":"9000","sub":"i","rep":"i2","od":0.01},
{"k":"pt","row":"D","panel":"Intimin IgG\u2081","group":"9000","sub":"i","rep":"i3","od":0},
{"k":"pt","row":"D","panel":"Intimin IgG\u2081","group":"9000","sub":"i","rep":"i4","od":0.01},
{"k":"pt","row":"D","panel":"Intimin IgG\u2081","group":"9000","sub":"i","rep":"i5","od":0.02},
{"k":"pt","row":"D","panel":"Intimin IgG\u2081","group":"9000","sub":"i","rep":"i6","od":0.04},
{"k":"pt","row":"D","panel":"Intimin IgG\u2081","group":"9000","sub":"c","rep":"c2","od":0.01},
{"k":"pt","row":"D","panel":"Intimin IgG\u2081","group":"9000","sub":"c","rep":"c3","od":0},
{"k":"pt","row":"D","panel":"Intimin IgG\u2081","group":"9000","sub":"c","rep":"c4","od":0.01},
{"k":"pt","row":"D","panel":"Intimin IgG\u2081","group":"9000R","sub":"i","rep":"i1","od":0.08},
{"k":"pt","row":"D","panel":"Intimin IgG\u2081","group":"9000R","sub":"i","rep":"i2","od":0.1},
{"k":"pt","row":"D","panel":"Intimin IgG\u2081","group":"9000R","sub":"i","rep":"i3","od":0.07},
{"k":"pt","row":"D","panel":"Intimin IgG\u2081","group":"9000R","sub":"i","rep":"i4","od":0.09},
{"k":"pt","row":"D","panel":"Intimin IgG\u2081","group":"9000R","sub":"i","rep":"i5","od":0.06},
{"k":"pt","row":"D","panel":"Intimin IgG\u2081","group":"9000R","sub":"i","rep":"i6","od":0.05},
{"k":"pt","row":"D","panel":"Intimin IgG\u2081","group":"9000R","sub":"i","rep":"i7","od":0.08},
{"k":"pt","row":"D","panel":"Intimin IgG\u2081","group":"9000R","sub":"c","rep":"c2","od":0.08},
{"k":"pt","row":"D","panel":"Intimin IgG\u2081","group":"9000R","sub":"c","rep":"c3","od":0.07},
{"k":"pt","row":"D","panel":"Intimin IgG\u2081","group":"9000R","sub":"c","rep":"c4","od":0.05},
{"k":"pt","row":"D","panel":"Intimin IgG\u2081","group":"9000R","sub":"c","rep":"c5","od":0.04},
{"k":"pt","row":"D","panel":"Intimin IgG\u2081","group":"10671","sub":"i","rep":"i1","od":0.01},
{"k":"pt","row":"D","panel":"Intimin IgG\u2081","group":"10671","sub":"i","rep":"i2","od":0.02},
{"k":"pt","row":"D","panel":"Intimin IgG\u2081","group":"10671","sub":"i","rep":"i3","od":0.01},
{"k":"pt","row":"D","panel":"Intimin IgG\u2081","group":"10671","sub":"i","rep":"i4","od":0.02},
{"k":"pt","row":"D","panel":"Intimin IgG\u2081","group":"10671","sub":"i","rep":"i5","od":0.01},
{"k":"pt","row":"D","panel":"Intimin IgG\u2081","group":"10671","sub":"i","rep":"i6","od":0},
{"k":"pt","row":"D","panel":"Intimin IgG\u2081","group":"10671","sub":"c","rep":"c2","od":0.02},
{"k":"pt","row":"D","panel":"Intimin IgG\u2081","group":"10671","sub":"c","rep":"c3","od":0.01},
{"k":"pt","row":"D","panel":"Intimin IgG\u2081","group":"10671","sub":"c","rep":"c5","od":0.03},

{"k":"pt","row":"D","panel":"Intimin IgG\u2082","group":"9000","sub":"i","rep":"i1","od":0},
{"k":"pt","row":"D","panel":"Intimin IgG\u2082","group":"9000","sub":"i","rep":"i2","od":0.01},
{"k":"pt","row":"D","panel":"Intimin IgG\u2082","group":"9000","sub":"i","rep":"i3","od":0},
{"k":"pt","row":"D","panel":"Intimin IgG\u2082","group":"9000","sub":"i","rep":"i4","od":0.01},
{"k":"pt","row":"D","panel":"Intimin IgG\u2082","group":"9000","sub":"i","rep":"i5","od":0.02},
{"k":"pt","row":"D","panel":"Intimin IgG\u2082","group":"9000","sub":"i","rep":"i6","od":0.04},
{"k":"pt","row":"D","panel":"Intimin IgG\u2082","group":"9000","sub":"c","rep":"c2","od":0.01},
{"k":"pt","row":"D","panel":"Intimin IgG\u2082","group":"9000","sub":"c","rep":"c3","od":0.01},
{"k":"pt","row":"D","panel":"Intimin IgG\u2082","group":"9000","sub":"c","rep":"c4","od":0},
{"k":"pt","row":"D","panel":"Intimin IgG\u2082","group":"9000R","sub":"i","rep":"i2","od":0.03},
{"k":"pt","row":"D","panel":"Intimin IgG\u2082","group":"9000R","sub":"i","rep":"i3","od":0.02},
{"k":"pt","row":"D","panel":"Intimin IgG\u2082","group":"9000R","sub":"i","rep":"i4","od":0.03},
{"k":"pt","row":"D","panel":"Intimin IgG\u2082","group":"9000R","sub":"i","rep":"i5","od":0.02},
{"k":"pt","row":"D","panel":"Intimin IgG\u2082","group":"9000R","sub":"c","rep":"c2","od":0.03},
{"k":"pt","row":"D","panel":"Intimin IgG\u2082","group":"9000R","sub":"c","rep":"c3","od":0.02},
{"k":"pt","row":"D","panel":"Intimin IgG\u2082","group":"9000R","sub":"c","rep":"c4","od":0.03},
{"k":"pt","row":"D","panel":"Intimin IgG\u2082","group":"10671","sub":"i","rep":"i1","od":0},
{"k":"pt","row":"D","panel":"Intimin IgG\u2082","group":"10671","sub":"i","rep":"i2","od":0.01},
{"k":"pt","row":"D","panel":"Intimin IgG\u2082","group":"10671","sub":"i","rep":"i3","od":0},
{"k":"pt","row":"D","panel":"Intimin IgG\u2082","group":"10671","sub":"i","rep":"i4","od":0.01},
{"k":"pt","row":"D","panel":"Intimin IgG\u2082","group":"10671","sub":"i","rep":"i5","od":0},
{"k":"pt","row":"D","panel":"Intimin IgG\u2082","group":"10671","sub":"i","rep":"i6","od":0.01},
{"k":"pt","row":"D","panel":"Intimin IgG\u2082","group":"10671","sub":"c","rep":"c2","od":0.02},
{"k":"pt","row":"D","panel":"Intimin IgG\u2082","group":"10671","sub":"c","rep":"c3","od":0.01},
{"k":"pt","row":"D","panel":"Intimin IgG\u2082","group":"10671","sub":"c","rep":"c4","od":0.01},

{"k":"st","row":"A","panel":"H7 IgA","group":"9000","sub":"i","med":0,"q1":0,"q3":0.42},
{"k":"st","row":"A","panel":"H7 IgA","group":"9000","sub":"c","med":0,"q1":0,"q3":0},
{"k":"st","row":"A","panel":"H7 IgA","group":"9000R","sub":"i","med":0.84,"q1":0.57,"q3":1.14},
{"k":"st","row":"A","panel":"H7 IgA","group":"9000R","sub":"c","med":0.03,"q1":0.03,"q3":0.03},
{"k":"st","row":"A","panel":"H7 IgA","group":"10671","sub":"i","med":0.02,"q1":0.02,"q3":0.02},
{"k":"st","row":"A","panel":"H7 IgA","group":"10671","sub":"c","med":0.01,"q1":0.01,"q3":0.01},
{"k":"st","row":"A","panel":"H7 IgG\u2081","group":"9000","sub":"i","med":0.08,"q1":0,"q3":0.52},
{"k":"st","row":"A","panel":"H7 IgG\u2081","group":"9000","sub":"c","med":0,"q1":0,"q3":0},
{"k":"st","row":"A","panel":"H7 IgG\u2081","group":"9000R","sub":"i","med":0.75,"q1":0.46,"q3":1.36},
{"k":"st","row":"A","panel":"H7 IgG\u2081","group":"9000R","sub":"c","med":0.02,"q1":0.02,"q3":0.02},
{"k":"st","row":"A","panel":"H7 IgG\u2081","group":"10671","sub":"i","med":0.05,"q1":0.01,"q3":0.22},
{"k":"st","row":"A","panel":"H7 IgG\u2081","group":"10671","sub":"c","med":0.01,"q1":0.01,"q3":0.01},
{"k":"st","row":"A","panel":"H7 IgG\u2082","group":"9000","sub":"i","med":0.03,"q1":0.03,"q3":0.03},
{"k":"st","row":"A","panel":"H7 IgG\u2082","group":"9000","sub":"c","med":0.01,"q1":0.01,"q3":0.01},
{"k":"st","row":"A","panel":"H7 IgG\u2082","group":"9000R","sub":"i","med":0,"q1":0,"q3":0},
{"k":"st","row":"A","panel":"H7 IgG\u2082","group":"9000R","sub":"c","med":0.02,"q1":0.02,"q3":0.02},
{"k":"st","row":"A","panel":"H7 IgG\u2082","group":"10671","sub":"i","med":0.01,"q1":0.01,"q3":0.01},
{"k":"st","row":"A","panel":"H7 IgG\u2082","group":"10671","sub":"c","med":0.02,"q1":0.02,"q3":0.02},
{"k":"st","row":"B","panel":"Tir IgA","group":"9000","sub":"i","med":0.01,"q1":0,"q3":0.18},
{"k":"st","row":"B","panel":"Tir IgA","group":"9000","sub":"c","med":0,"q1":0,"q3":0},
{"k":"st","row":"B","panel":"Tir IgA","group":"9000R","sub":"i","med":0.49,"q1":0.43,"q3":0.63},
{"k":"st","row":"B","panel":"Tir IgA","group":"9000R","sub":"c","med":0.06,"q1":0.06,"q3":0.06},
{"k":"st","row":"B","panel":"Tir IgA","group":"10671","sub":"i","med":0.02,"q1":0.02,"q3":0.02},
{"k":"st","row":"B","panel":"Tir IgA","group":"10671","sub":"c","med":0.01,"q1":0.01,"q3":0.01},
{"k":"st","row":"B","panel":"Tir IgG\u2081","group":"9000","sub":"i","med":0,"q1":0,"q3":0.1},
{"k":"st","row":"B","panel":"Tir IgG\u2081","group":"9000","sub":"c","med":0,"q1":0,"q3":0},
{"k":"st","row":"B","panel":"Tir IgG\u2081","group":"9000R","sub":"i","med":0.09,"q1":0.05,"q3":0.22},
{"k":"st","row":"B","panel":"Tir IgG\u2081","group":"9000R","sub":"c","med":0.07,"q1":0.07,"q3":0.07},
{"k":"st","row":"B","panel":"Tir IgG\u2081","group":"10671","sub":"i","med":0,"q1":0,"q3":0},
{"k":"st","row":"B","panel":"Tir IgG\u2081","group":"10671","sub":"c","med":0.01,"q1":0.01,"q3":0.01},
{"k":"st","row":"B","panel":"Tir IgG\u2082","group":"9000","sub":"i","med":0,"q1":0,"q3":0},
{"k":"st","row":"B","panel":"Tir IgG\u2082","group":"9000","sub":"c","med":0,"q1":0,"q3":0},
{"k":"st","row":"B","panel":"Tir IgG\u2082","group":"9000R","sub":"i","med":0,"q1":0,"q3":0},
{"k":"st","row":"B","panel":"Tir IgG\u2082","group":"9000R","sub":"c","med":0.01,"q1":0.01,"q3":0.01},
{"k":"st","row":"B","panel":"Tir IgG\u2082","group":"10671","sub":"i","med":0,"q1":0,"q3":0},
{"k":"st","row":"B","panel":"Tir IgG\u2082","group":"10671","sub":"c","med":0,"q1":0,"q3":0},
{"k":"st","row":"C","panel":"EspA IgA","group":"9000","sub":"i","med":0,"q1":0,"q3":0},
{"k":"st","row":"C","panel":"EspA IgA","group":"9000","sub":"c","med":0,"q1":0,"q3":0},
{"k":"st","row":"C","panel":"EspA IgA","group":"9000R","sub":"i","med":0.14,"q1":0,"q3":0.29},
{"k":"st","row":"C","panel":"EspA IgA","group":"9000R","sub":"c","med":0,"q1":0,"q3":0},
{"k":"st","row":"C","panel":"EspA IgA","group":"10671","sub":"i","med":0.01,"q1":0.01,"q3":0.01},
{"k":"st","row":"C","panel":"EspA IgA","group":"10671","sub":"c","med":0.01,"q1":0.01,"q3":0.01},
{"k":"st","row":"C","panel":"EspA IgG\u2081","group":"9000","sub":"i","med":0,"q1":0,"q3":0},
{"k":"st","row":"C","panel":"EspA IgG\u2081","group":"9000","sub":"c","med":0,"q1":0,"q3":0},
{"k":"st","row":"C","panel":"EspA IgG\u2081","group":"9000R","sub":"i","med":0,"q1":0,"q3":0},
{"k":"st","row":"C","panel":"EspA IgG\u2081","group":"9000R","sub":"c","med":0,"q1":0,"q3":0},
{"k":"st","row":"C","panel":"EspA IgG\u2081","group":"10671","sub":"i","med":0,"q1":0,"q3":0},
{"k":"st","row":"C","panel":"EspA IgG\u2081","group":"10671","sub":"c","med":0.02,"q1":0.02,"q3":0.02},
{"k":"st","row":"C","panel":"EspA IgG\u2082","group":"9000","sub":"i","med":0,"q1":0,"q3":0},
{"k":"st","row":"C","panel":"EspA IgG\u2082","group":"9000","sub":"c","med":0,"q1":0,"q3":0},
{"k":"st","row":"C","panel":"EspA IgG\u2082","group":"9000R","sub":"i","med":0,"q1":0,"q3":0},
{"k":"st","row":"C","panel":"EspA IgG\u2082","group":"9000R","sub":"c","med":0.01,"q1":0.01,"q3":0.01},
{"k":"st","row":"C","panel":"EspA IgG\u2082","group":"10671","sub":"i","med":0.01,"q1":0.01,"q3":0.01},
{"k":"st","row":"C","panel":"EspA IgG\u2082","group":"10671","sub":"c","med":0,"q1":0,"q3":0},
{"k":"st","row":"D","panel":"Intimin IgA","group":"9000","sub":"i","med":0.02,"q1":0.01,"q3":0.07},
{"k":"st","row":"D","panel":"Intimin IgA","group":"9000","sub":"c","med":0.01,"q1":0.01,"q3":0.01},
{"k":"st","row":"D","panel":"Intimin IgA","group":"9000R","sub":"i","med":0.1,"q1":0.06,"q3":0.17},
{"k":"st","row":"D","panel":"Intimin IgA","group":"9000R","sub":"c","med":0.04,"q1":0.04,"q3":0.04},
{"k":"st","row":"D","panel":"Intimin IgA","group":"10671","sub":"i","med":0.03,"q1":0.03,"q3":0.03},
{"k":"st","row":"D","panel":"Intimin IgA","group":"10671","sub":"c","med":0.03,"q1":0.03,"q3":0.03},
{"k":"st","row":"D","panel":"Intimin IgG\u2081","group":"9000","sub":"i","med":0.01,"q1":0.01,"q3":0.01},
{"k":"st","row":"D","panel":"Intimin IgG\u2081","group":"9000","sub":"c","med":0.01,"q1":0.01,"q3":0.01},
{"k":"st","row":"D","panel":"Intimin IgG\u2081","group":"9000R","sub":"i","med":0.07,"q1":0.06,"q3":0.08},
{"k":"st","row":"D","panel":"Intimin IgG\u2081","group":"9000R","sub":"c","med":0.06,"q1":0.06,"q3":0.06},
{"k":"st","row":"D","panel":"Intimin IgG\u2081","group":"10671","sub":"i","med":0.01,"q1":0.01,"q3":0.01},
{"k":"st","row":"D","panel":"Intimin IgG\u2081","group":"10671","sub":"c","med":0.02,"q1":0.02,"q3":0.02},
{"k":"st","row":"D","panel":"Intimin IgG\u2082","group":"9000","sub":"i","med":0.01,"q1":0.01,"q3":0.01},
{"k":"st","row":"D","panel":"Intimin IgG\u2082","group":"9000","sub":"c","med":0.01,"q1":0.01,"q3":0.01},
{"k":"st","row":"D","panel":"Intimin IgG\u2082","group":"9000R","sub":"i","med":0.03,"q1":0.03,"q3":0.03},
{"k":"st","row":"D","panel":"Intimin IgG\u2082","group":"9000R","sub":"c","med":0.03,"q1":0.03,"q3":0.03},
{"k":"st","row":"D","panel":"Intimin IgG\u2082","group":"10671","sub":"i","med":0.01,"q1":0.01,"q3":0.01},
{"k":"st","row":"D","panel":"Intimin IgG\u2082","group":"10671","sub":"c","med":0.01,"q1":0.01,"q3":0.01},

{"k":"p","row":"A","panel":"H7 IgA","group":"9000","pv":"= 0.455"},
{"k":"p","row":"A","panel":"H7 IgA","group":"9000R","pv":"= 0.003"},
{"k":"p","row":"A","panel":"H7 IgA","group":"10671","pv":"= 0.595"},
{"k":"p","row":"A","panel":"H7 IgG\u2081","group":"9000","pv":"= 0.087"},
{"k":"p","row":"A","panel":"H7 IgG\u2081","group":"9000R","pv":"= 0.003"},
{"k":"p","row":"A","panel":"H7 IgG\u2081","group":"10671","pv":"= 0.348"},
{"k":"p","row":"A","panel":"H7 IgG\u2082","group":"9000","pv":"= 0.628"},
{"k":"p","row":"A","panel":"H7 IgG\u2082","group":"9000R","pv":"= 0.533"},
{"k":"p","row":"A","panel":"H7 IgG\u2082","group":"10671","pv":"= 0.455"},
{"k":"p","row":"B","panel":"Tir IgA","group":"9000","pv":"= 0.182"},
{"k":"p","row":"B","panel":"Tir IgA","group":"9000R","pv":"= 0.018"},
{"k":"p","row":"B","panel":"Tir IgA","group":"10671","pv":"= 0.462"},
{"k":"p","row":"B","panel":"Tir IgG\u2081","group":"9000","pv":"> 0.999"},
{"k":"p","row":"B","panel":"Tir IgG\u2081","group":"9000R","pv":"= 0.343"},
{"k":"p","row":"B","panel":"Tir IgG\u2081","group":"10671","pv":"= 0.133"},
{"k":"p","row":"B","panel":"Tir IgG\u2082","group":"9000","pv":"> 0.999"},
{"k":"p","row":"B","panel":"Tir IgG\u2082","group":"9000R","pv":"> 0.999"},
{"k":"p","row":"B","panel":"Tir IgG\u2082","group":"10671","pv":"> 0.999"},
{"k":"p","row":"C","panel":"EspA IgA","group":"9000","pv":"> 0.999"},
{"k":"p","row":"C","panel":"EspA IgA","group":"9000R","pv":"= 0.011"},
{"k":"p","row":"C","panel":"EspA IgA","group":"10671","pv":"= 0.400"},
{"k":"p","row":"C","panel":"EspA IgG\u2081","group":"9000","pv":"> 0.999"},
{"k":"p","row":"C","panel":"EspA IgG\u2081","group":"9000R","pv":"> 0.999"},
{"k":"p","row":"C","panel":"EspA IgG\u2081","group":"10671","pv":"> 0.999"},
{"k":"p","row":"C","panel":"EspA IgG\u2082","group":"9000","pv":"> 0.999"},
{"k":"p","row":"C","panel":"EspA IgG\u2082","group":"9000R","pv":"> 0.999"},
{"k":"p","row":"C","panel":"EspA IgG\u2082","group":"10671","pv":"> 0.999"},
{"k":"p","row":"D","panel":"Intimin IgA","group":"9000","pv":"= 0.792"},
{"k":"p","row":"D","panel":"Intimin IgA","group":"9000R","pv":"= 0.018"},
{"k":"p","row":"D","panel":"Intimin IgA","group":"10671","pv":"= 0.610"},
{"k":"p","row":"D","panel":"Intimin IgG\u2081","group":"9000","pv":"= 0.470"},
{"k":"p","row":"D","panel":"Intimin IgG\u2081","group":"9000R","pv":"= 0.981"},
{"k":"p","row":"D","panel":"Intimin IgG\u2081","group":"10671","pv":"> 0.999"},
{"k":"p","row":"D","panel":"Intimin IgG\u2082","group":"9000","pv":"> 0.999"},
{"k":"p","row":"D","panel":"Intimin IgG\u2082","group":"9000R","pv":"> 0.999"},
{"k":"p","row":"D","panel":"Intimin IgG\u2082","group":"10671","pv":"> 0.999"}
]},
"spacing": 26,
"vconcat": [
{
 "title": "A",
 "data": {"name": "d"},
 "transform": [{"filter": "datum.row == 'A'"}],
 "facet": {"column": {"field": "panel", "type": "nominal", "title": null, "sort": ["H7 IgA", "H7 IgG\u2081", "H7 IgG\u2082"]}},
 "bounds": "flush",
 "spacing": 68,
 "resolve": {"axis": {"y": "independent"}},
 "spec": {
  "width": 174, "height": 171,
  "resolve": {"scale": {"xOffset": "independent"}},
  "layer": [
   {"transform": [{"filter": "datum.k == 'p' && datum.group != '9000'"}],
    "mark": {"type": "rule", "color": "black", "strokeWidth": 1.5, "strokeDash": [1.5, 2.5]},
    "encoding": {"x": {"field": "group", "type": "nominal", "bandPosition": 0, "scale": {"type": "band", "domain": ["9000", "9000R", "10671"], "paddingInner": 0, "paddingOuter": 0}, "title": null}}},
   {"transform": [{"filter": "datum.k == 'pt'"}],
    "mark": {"type": "circle", "size": 36, "stroke": "black", "strokeWidth": 1, "opacity": 1},
    "encoding": {
     "x": {"field": "group", "type": "nominal", "scale": {"type": "band", "domain": ["9000", "9000R", "10671"], "paddingInner": 0, "paddingOuter": 0}, "title": null},
     "xOffset": {"field": "rep", "type": "nominal", "scale": {"type": "point", "domain": ["i1","i2","i3","i4","i5","i6","i7","g1","g2","g3","g4","g5","g6","g7","g8","c1","c2","c3","c4","c5"], "range": [13.5, 42]}},
     "y": {"field": "od", "type": "quantitative", "scale": {"domain": [0, 2], "nice": false}, "axis": {"values": [0, 0.5, 1, 1.5, 2], "format": ".1f"}, "title": "OD@492nm"},
     "fill": {"field": "sub", "type": "nominal", "scale": {"domain": ["i", "c"], "range": ["black", "white"]}, "legend": null}}},
   {"transform": [{"filter": "datum.k == 'st'"}],
    "mark": {"type": "rule", "color": "black", "strokeWidth": 1.5},
    "encoding": {
     "x": {"field": "group", "type": "nominal", "scale": {"type": "band", "domain": ["9000", "9000R", "10671"], "paddingInner": 0, "paddingOuter": 0}, "title": null},
     "xOffset": {"field": "sub", "type": "nominal", "scale": {"type": "point", "domain": ["i", "c"], "range": [18, 39]}},
     "y": {"field": "q1", "type": "quantitative", "title": "OD@492nm"}, "y2": {"field": "q3"}}},
   {"transform": [{"filter": "datum.k == 'st'"}],
    "mark": {"type": "tick", "orient": "horizontal", "size": 8, "thickness": 1.5, "color": "black"},
    "encoding": {
     "x": {"field": "group", "type": "nominal", "scale": {"type": "band", "domain": ["9000", "9000R", "10671"], "paddingInner": 0, "paddingOuter": 0}, "title": null},
     "xOffset": {"field": "sub", "type": "nominal", "scale": {"type": "point", "domain": ["i", "c"], "range": [18, 39]}},
     "y": {"field": "q3", "type": "quantitative", "title": "OD@492nm"}}},
   {"transform": [{"filter": "datum.k == 'st'"}],
    "mark": {"type": "tick", "orient": "horizontal", "size": 16, "thickness": 2, "color": "black"},
    "encoding": {
     "x": {"field": "group", "type": "nominal", "scale": {"type": "band", "domain": ["9000", "9000R", "10671"], "paddingInner": 0, "paddingOuter": 0}, "title": null},
     "xOffset": {"field": "sub", "type": "nominal", "scale": {"type": "point", "domain": ["i", "c"], "range": [18, 39]}},
     "y": {"field": "med", "type": "quantitative", "title": "OD@492nm"}}},
   {"transform": [{"filter": "datum.k == 'p'"}],
    "mark": {"type": "text", "text": "p", "fontStyle": "italic", "align": "left", "baseline": "top", "dx": -23, "dy": 3, "fontSize": 9.3, "color": "#333333"},
    "encoding": {
     "x": {"field": "group", "type": "nominal", "scale": {"type": "band", "domain": ["9000", "9000R", "10671"], "paddingInner": 0, "paddingOuter": 0}, "title": null},
     "y": {"datum": 2, "type": "quantitative"}}},
   {"transform": [{"filter": "datum.k == 'p'"}],
    "mark": {"type": "text", "align": "left", "baseline": "top", "dx": -14, "dy": 3, "fontSize": 9.3, "color": "#333333"},
    "encoding": {
     "x": {"field": "group", "type": "nominal", "scale": {"type": "band", "domain": ["9000", "9000R", "10671"], "paddingInner": 0, "paddingOuter": 0}, "title": null},
     "y": {"datum": 2, "type": "quantitative"},
     "text": {"field": "pv"}}}
  ]
 }
},
{
 "title": "B",
 "data": {"name": "d"},
 "transform": [{"filter": "datum.row == 'B'"}],
 "facet": {"column": {"field": "panel", "type": "nominal", "title": null, "sort": ["Tir IgA", "Tir IgG\u2081", "Tir IgG\u2082"]}},
 "bounds": "flush",
 "spacing": 68,
 "resolve": {"axis": {"y": "independent"}},
 "spec": {
  "width": 174, "height": 171,
  "resolve": {"scale": {"xOffset": "independent"}},
  "layer": [
   {"transform": [{"filter": "datum.k == 'p' && datum.group != '9000'"}],
    "mark": {"type": "rule", "color": "black", "strokeWidth": 1.5, "strokeDash": [1.5, 2.5]},
    "encoding": {"x": {"field": "group", "type": "nominal", "bandPosition": 0, "scale": {"type": "band", "domain": ["9000", "9000R", "10671"], "paddingInner": 0, "paddingOuter": 0}, "title": null}}},
   {"transform": [{"filter": "datum.k == 'pt'"}],
    "mark": {"type": "circle", "size": 36, "stroke": "black", "strokeWidth": 1, "opacity": 1},
    "encoding": {
     "x": {"field": "group", "type": "nominal", "scale": {"type": "band", "domain": ["9000", "9000R", "10671"], "paddingInner": 0, "paddingOuter": 0}, "title": null},
     "xOffset": {"field": "rep", "type": "nominal", "scale": {"type": "point", "domain": ["i1","i2","i3","i4","i5","i6","i7","g1","g2","g3","g4","g5","g6","g7","g8","c1","c2","c3","c4","c5"], "range": [13.5, 42]}},
     "y": {"field": "od", "type": "quantitative", "scale": {"domain": [0, 2], "nice": false}, "axis": {"values": [0, 0.5, 1, 1.5, 2], "format": ".1f"}, "title": "OD@492nm"},
     "fill": {"field": "sub", "type": "nominal", "scale": {"domain": ["i", "c"], "range": ["black", "white"]}, "legend": null}}},
   {"transform": [{"filter": "datum.k == 'st'"}],
    "mark": {"type": "rule", "color": "black", "strokeWidth": 1.5},
    "encoding": {
     "x": {"field": "group", "type": "nominal", "scale": {"type": "band", "domain": ["9000", "9000R", "10671"], "paddingInner": 0, "paddingOuter": 0}, "title": null},
     "xOffset": {"field": "sub", "type": "nominal", "scale": {"type": "point", "domain": ["i", "c"], "range": [18, 39]}},
     "y": {"field": "q1", "type": "quantitative", "title": "OD@492nm"}, "y2": {"field": "q3"}}},
   {"transform": [{"filter": "datum.k == 'st'"}],
    "mark": {"type": "tick", "orient": "horizontal", "size": 8, "thickness": 1.5, "color": "black"},
    "encoding": {
     "x": {"field": "group", "type": "nominal", "scale": {"type": "band", "domain": ["9000", "9000R", "10671"], "paddingInner": 0, "paddingOuter": 0}, "title": null},
     "xOffset": {"field": "sub", "type": "nominal", "scale": {"type": "point", "domain": ["i", "c"], "range": [18, 39]}},
     "y": {"field": "q3", "type": "quantitative", "title": "OD@492nm"}}},
   {"transform": [{"filter": "datum.k == 'st'"}],
    "mark": {"type": "tick", "orient": "horizontal", "size": 16, "thickness": 2, "color": "black"},
    "encoding": {
     "x": {"field": "group", "type": "nominal", "scale": {"type": "band", "domain": ["9000", "9000R", "10671"], "paddingInner": 0, "paddingOuter": 0}, "title": null},
     "xOffset": {"field": "sub", "type": "nominal", "scale": {"type": "point", "domain": ["i", "c"], "range": [18, 39]}},
     "y": {"field": "med", "type": "quantitative", "title": "OD@492nm"}}},
   {"transform": [{"filter": "datum.k == 'p'"}],
    "mark": {"type": "text", "text": "p", "fontStyle": "italic", "align": "left", "baseline": "top", "dx": -23, "dy": 3, "fontSize": 9.3, "color": "#333333"},
    "encoding": {
     "x": {"field": "group", "type": "nominal", "scale": {"type": "band", "domain": ["9000", "9000R", "10671"], "paddingInner": 0, "paddingOuter": 0}, "title": null},
     "y": {"datum": 2, "type": "quantitative"}}},
   {"transform": [{"filter": "datum.k == 'p'"}],
    "mark": {"type": "text", "align": "left", "baseline": "top", "dx": -14, "dy": 3, "fontSize": 9.3, "color": "#333333"},
    "encoding": {
     "x": {"field": "group", "type": "nominal", "scale": {"type": "band", "domain": ["9000", "9000R", "10671"], "paddingInner": 0, "paddingOuter": 0}, "title": null},
     "y": {"datum": 2, "type": "quantitative"},
     "text": {"field": "pv"}}}
  ]
 }
},
{
 "title": "C",
 "data": {"name": "d"},
 "transform": [{"filter": "datum.row == 'C'"}],
 "facet": {"column": {"field": "panel", "type": "nominal", "title": null, "sort": ["EspA IgA", "EspA IgG\u2081", "EspA IgG\u2082"]}},
 "bounds": "flush",
 "spacing": 68,
 "resolve": {"axis": {"y": "independent"}},
 "spec": {
  "width": 174, "height": 171,
  "resolve": {"scale": {"xOffset": "independent"}},
  "layer": [
   {"transform": [{"filter": "datum.k == 'p' && datum.group != '9000'"}],
    "mark": {"type": "rule", "color": "black", "strokeWidth": 1.5, "strokeDash": [1.5, 2.5]},
    "encoding": {"x": {"field": "group", "type": "nominal", "bandPosition": 0, "scale": {"type": "band", "domain": ["9000", "9000R", "10671"], "paddingInner": 0, "paddingOuter": 0}, "title": null}}},
   {"transform": [{"filter": "datum.k == 'pt'"}],
    "mark": {"type": "circle", "size": 36, "stroke": "black", "strokeWidth": 1, "opacity": 1},
    "encoding": {
     "x": {"field": "group", "type": "nominal", "scale": {"type": "band", "domain": ["9000", "9000R", "10671"], "paddingInner": 0, "paddingOuter": 0}, "title": null},
     "xOffset": {"field": "rep", "type": "nominal", "scale": {"type": "point", "domain": ["i1","i2","i3","i4","i5","i6","i7","g1","g2","g3","g4","g5","g6","g7","g8","c1","c2","c3","c4","c5"], "range": [13.5, 42]}},
     "y": {"field": "od", "type": "quantitative", "scale": {"domain": [0, 2], "nice": false}, "axis": {"values": [0, 0.5, 1, 1.5, 2], "format": ".1f"}, "title": "OD@492nm"},
     "fill": {"field": "sub", "type": "nominal", "scale": {"domain": ["i", "c"], "range": ["black", "white"]}, "legend": null}}},
   {"transform": [{"filter": "datum.k == 'st'"}],
    "mark": {"type": "rule", "color": "black", "strokeWidth": 1.5},
    "encoding": {
     "x": {"field": "group", "type": "nominal", "scale": {"type": "band", "domain": ["9000", "9000R", "10671"], "paddingInner": 0, "paddingOuter": 0}, "title": null},
     "xOffset": {"field": "sub", "type": "nominal", "scale": {"type": "point", "domain": ["i", "c"], "range": [18, 39]}},
     "y": {"field": "q1", "type": "quantitative", "title": "OD@492nm"}, "y2": {"field": "q3"}}},
   {"transform": [{"filter": "datum.k == 'st'"}],
    "mark": {"type": "tick", "orient": "horizontal", "size": 8, "thickness": 1.5, "color": "black"},
    "encoding": {
     "x": {"field": "group", "type": "nominal", "scale": {"type": "band", "domain": ["9000", "9000R", "10671"], "paddingInner": 0, "paddingOuter": 0}, "title": null},
     "xOffset": {"field": "sub", "type": "nominal", "scale": {"type": "point", "domain": ["i", "c"], "range": [18, 39]}},
     "y": {"field": "q3", "type": "quantitative", "title": "OD@492nm"}}},
   {"transform": [{"filter": "datum.k == 'st'"}],
    "mark": {"type": "tick", "orient": "horizontal", "size": 16, "thickness": 2, "color": "black"},
    "encoding": {
     "x": {"field": "group", "type": "nominal", "scale": {"type": "band", "domain": ["9000", "9000R", "10671"], "paddingInner": 0, "paddingOuter": 0}, "title": null},
     "xOffset": {"field": "sub", "type": "nominal", "scale": {"type": "point", "domain": ["i", "c"], "range": [18, 39]}},
     "y": {"field": "med", "type": "quantitative", "title": "OD@492nm"}}},
   {"transform": [{"filter": "datum.k == 'p'"}],
    "mark": {"type": "text", "text": "p", "fontStyle": "italic", "align": "left", "baseline": "top", "dx": -23, "dy": 3, "fontSize": 9.3, "color": "#333333"},
    "encoding": {
     "x": {"field": "group", "type": "nominal", "scale": {"type": "band", "domain": ["9000", "9000R", "10671"], "paddingInner": 0, "paddingOuter": 0}, "title": null},
     "y": {"datum": 2, "type": "quantitative"}}},
   {"transform": [{"filter": "datum.k == 'p'"}],
    "mark": {"type": "text", "align": "left", "baseline": "top", "dx": -14, "dy": 3, "fontSize": 9.3, "color": "#333333"},
    "encoding": {
     "x": {"field": "group", "type": "nominal", "scale": {"type": "band", "domain": ["9000", "9000R", "10671"], "paddingInner": 0, "paddingOuter": 0}, "title": null},
     "y": {"datum": 2, "type": "quantitative"},
     "text": {"field": "pv"}}}
  ]
 }
},
{
 "title": "D",
 "data": {"name": "d"},
 "transform": [{"filter": "datum.row == 'D'"}],
 "facet": {"column": {"field": "panel", "type": "nominal", "title": null, "header": {"labelPadding": 27}, "sort": ["Intimin IgA", "Intimin IgG\u2081", "Intimin IgG\u2082"]}},
 "bounds": "flush",
 "spacing": 68,
 "resolve": {"axis": {"y": "independent"}},
 "spec": {
  "width": 174, "height": 161,
  "resolve": {"scale": {"xOffset": "independent"}},
  "layer": [
   {"transform": [{"filter": "datum.k == 'p' && datum.group != '9000'"}],
    "mark": {"type": "rule", "color": "black", "strokeWidth": 1.5, "strokeDash": [1.5, 2.5]},
    "encoding": {"x": {"field": "group", "type": "nominal", "bandPosition": 0, "scale": {"type": "band", "domain": ["9000", "9000R", "10671"], "paddingInner": 0, "paddingOuter": 0}, "title": null}}},
   {"transform": [{"filter": "datum.k == 'pt'"}],
    "mark": {"type": "circle", "size": 36, "stroke": "black", "strokeWidth": 1, "opacity": 1},
    "encoding": {
     "x": {"field": "group", "type": "nominal", "scale": {"type": "band", "domain": ["9000", "9000R", "10671"], "paddingInner": 0, "paddingOuter": 0}, "title": null},
     "xOffset": {"field": "rep", "type": "nominal", "scale": {"type": "point", "domain": ["i1","i2","i3","i4","i5","i6","i7","g1","g2","g3","g4","g5","g6","g7","g8","c1","c2","c3","c4","c5"], "range": [13.5, 42]}},
     "y": {"field": "od", "type": "quantitative", "scale": {"domain": [0, 2], "nice": false}, "axis": {"values": [0, 0.5, 1, 1.5, 2], "format": ".1f"}, "title": "OD@492nm"},
     "fill": {"field": "sub", "type": "nominal", "scale": {"domain": ["i", "c"], "range": ["black", "white"]}, "legend": null}}},
   {"transform": [{"filter": "datum.k == 'st'"}],
    "mark": {"type": "rule", "color": "black", "strokeWidth": 1.5},
    "encoding": {
     "x": {"field": "group", "type": "nominal", "scale": {"type": "band", "domain": ["9000", "9000R", "10671"], "paddingInner": 0, "paddingOuter": 0}, "title": null},
     "xOffset": {"field": "sub", "type": "nominal", "scale": {"type": "point", "domain": ["i", "c"], "range": [18, 39]}},
     "y": {"field": "q1", "type": "quantitative", "title": "OD@492nm"}, "y2": {"field": "q3"}}},
   {"transform": [{"filter": "datum.k == 'st'"}],
    "mark": {"type": "tick", "orient": "horizontal", "size": 8, "thickness": 1.5, "color": "black"},
    "encoding": {
     "x": {"field": "group", "type": "nominal", "scale": {"type": "band", "domain": ["9000", "9000R", "10671"], "paddingInner": 0, "paddingOuter": 0}, "title": null},
     "xOffset": {"field": "sub", "type": "nominal", "scale": {"type": "point", "domain": ["i", "c"], "range": [18, 39]}},
     "y": {"field": "q3", "type": "quantitative", "title": "OD@492nm"}}},
   {"transform": [{"filter": "datum.k == 'st'"}],
    "mark": {"type": "tick", "orient": "horizontal", "size": 16, "thickness": 2, "color": "black"},
    "encoding": {
     "x": {"field": "group", "type": "nominal", "scale": {"type": "band", "domain": ["9000", "9000R", "10671"], "paddingInner": 0, "paddingOuter": 0}, "title": null},
     "xOffset": {"field": "sub", "type": "nominal", "scale": {"type": "point", "domain": ["i", "c"], "range": [18, 39]}},
     "y": {"field": "med", "type": "quantitative", "title": "OD@492nm"}}},
   {"transform": [{"filter": "datum.k == 'p'"}],
    "mark": {"type": "text", "text": "p", "fontStyle": "italic", "align": "left", "baseline": "top", "dx": -23, "dy": 3, "fontSize": 9.3, "color": "#333333"},
    "encoding": {
     "x": {"field": "group", "type": "nominal", "scale": {"type": "band", "domain": ["9000", "9000R", "10671"], "paddingInner": 0, "paddingOuter": 0}, "title": null},
     "y": {"datum": 2, "type": "quantitative"}}},
   {"transform": [{"filter": "datum.k == 'p'"}],
    "mark": {"type": "text", "align": "left", "baseline": "top", "dx": -14, "dy": 3, "fontSize": 9.3, "color": "#333333"},
    "encoding": {
     "x": {"field": "group", "type": "nominal", "scale": {"type": "band", "domain": ["9000", "9000R", "10671"], "paddingInner": 0, "paddingOuter": 0}, "title": null},
     "y": {"datum": 2, "type": "quantitative"},
     "text": {"field": "pv"}}}
  ]
 }
}
]
}
